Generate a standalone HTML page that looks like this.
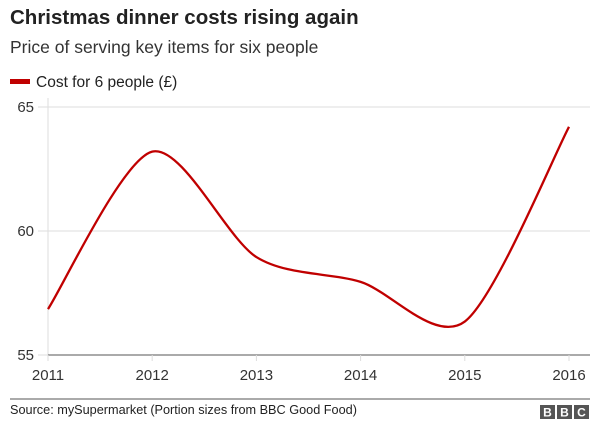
<!DOCTYPE html>
<html><head><meta charset="utf-8"><style>
body{margin:0;background:#fff;font-family:"Liberation Sans",Arial,sans-serif;}
#wrap{position:relative;width:600px;height:429px;overflow:hidden;}
</style></head><body>
<div id="wrap">
<svg id="chart" width="600" height="429">
<text x="10" y="24" font-size="20.5" font-weight="bold" fill="#222">Christmas dinner costs rising again</text>
<text x="10" y="53" font-size="17.5" fill="#333">Price of serving key items for six people</text>
<g>
<rect x="10" y="79" width="20" height="5" fill="#c00000"/>
<text x="36" y="87" font-size="15.5" fill="#222">Cost for 6 people (£)</text>
</g>
<g id="grid"></g><g id="axes"></g><g id="series"></g>
<line x1="10" y1="399" x2="590" y2="399" stroke="#555" stroke-width="1"/>
<text x="10" y="414" font-size="12.7" fill="#222">Source: mySupermarket (Portion sizes from BBC Good Food)</text>
<g font-size="12" font-weight="bold" fill="#fff" text-anchor="middle">
<rect x="540" y="405" width="15" height="14" fill="#555"/><text x="547.5" y="416.5">B</text>
<rect x="557" y="405" width="15" height="14" fill="#555"/><text x="564.5" y="416.5">B</text>
<rect x="574" y="405" width="15" height="14" fill="#555"/><text x="581.5" y="416.5">C</text>
</g>
</svg>
</div>
<script>
const years=[2011,2012,2013,2014,2015,2016];
const costs=[56.85,63.2,58.95,57.95,56.35,64.2];
const yTicks=[55,60,65];
const NS="http://www.w3.org/2000/svg";
const x=v=>48+(v-2011)*104.2;
const y=v=>355-(v-55)*24.8;
function mk(t,a,p){const e=document.createElementNS(NS,t);for(const k in a)e.setAttribute(k,a[k]);p.appendChild(e);return e;}
const grid=document.getElementById('grid'),axes=document.getElementById('axes'),ser=document.getElementById('series');
yTicks.forEach(v=>{
 if(v!==55){const g=mk('line',{x1:38,x2:590,y1:y(v),y2:y(v),stroke:'#ddd','stroke-width':1},grid);
 
 }
 else {const tk=mk('line',{x1:38,x2:48,y1:y(v),y2:y(v),stroke:'#ddd'},grid);
 
 }
 const t=mk('text',{x:34,y:y(v)+5,'font-size':15,fill:'#333','text-anchor':'end'},axes);t.textContent=v;
 
 
});
const ya=mk('line',{x1:48,x2:48,y1:98,y2:355,stroke:'#ddd'},axes);


const xa=mk('line',{x1:48,x2:590,y1:355,y2:355,stroke:'#555'},axes);


years.forEach(v=>{
 const tk=mk('line',{x1:x(v),x2:x(v),y1:355,y2:361,stroke:'#ddd'},axes);
 
 
 const t=mk('text',{x:x(v),y:380,'font-size':15,fill:'#333','text-anchor':'middle'},axes);t.textContent=v;
 
 
});
const P=years.map((v,i)=>[x(v),y(costs[i])]);
let d='M'+P[0][0]+','+P[0][1];
const k=1/7;
for(let i=0;i<P.length-1;i++){
 const p0=P[i-1]||P[i],p1=P[i],p2=P[i+1],p3=P[i+2]||P[i+1];
 const c1=[p1[0]+(p2[0]-p0[0])*k,p1[1]+(p2[1]-p0[1])*k];
 const c2=[p2[0]-(p3[0]-p1[0])*k,p2[1]-(p3[1]-p1[1])*k];
 d+=` C${c1[0]},${c1[1]} ${c2[0]},${c2[1]} ${p2[0]},${p2[1]}`;
}
const line=mk('path',{d:d,fill:'none',stroke:'#c00000','stroke-width':2.3},ser);


</script>
</body></html>
